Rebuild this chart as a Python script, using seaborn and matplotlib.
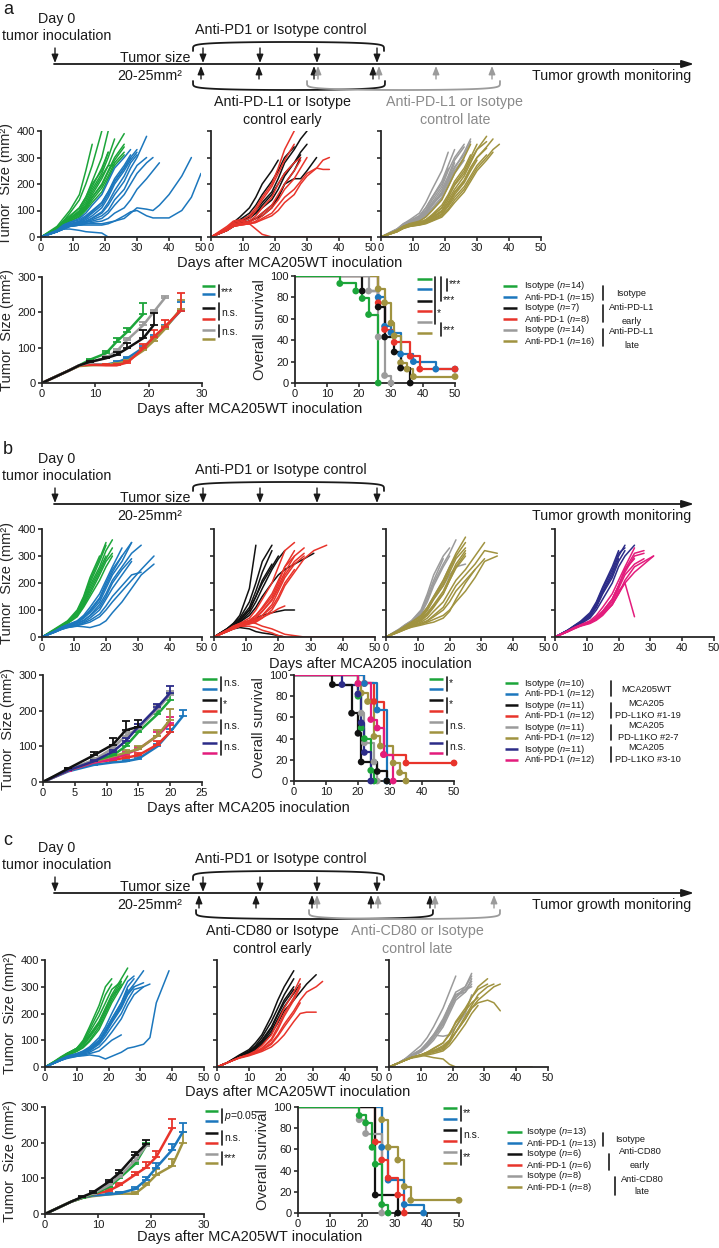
import numpy as np
import pandas as pd
import matplotlib
matplotlib.use("Agg")
import matplotlib.pyplot as plt
import seaborn as sns

# ---------------- DATA ----------------
GREEN, BLUE, BLACK, RED = '#1ca53a', '#1c77bd', '#111111', '#e8342b'
GRAY, OLIVE, NAVY, PINK = '#9b9b9b', '#a09340', '#2c2c88', '#e31c7c'

# panel a: individual tumour curves (values on the day grid)
A_DAYS = [0, 5, 7, 9, 12, 14, 16, 19, 21, 23, 26, 28, 30, 33, 35, 37, 40, 44, 47, 50]
a_green = [
    [0, 40, 70, 100, 160, 250, 350],
    [0, 35, 60, 90, 140, 200, 270, 400],
    [0, 30, 55, 75, 110, 150, 210, 300, 400],
    [0, 30, 50, 70, 100, 140, 190, 260, 320],
    [0, 30, 55, 70, 95, 130, 180, 240, 300, 370],
    [0, 25, 50, 65, 90, 120, 160, 220, 270, 330, 390],
    [0, 30, 50, 65, 85, 110, 150, 200, 250, 300, 350],
    [0, 25, 45, 60, 80, 105, 140, 185, 230, 280, 320],
    [0, 30, 50, 60, 75, 100, 130, 170, 220, 270, 310],
    [0, 35, 55, 70, 90, 120, 170, 230, 270, 270],
    [0, 30, 60, 80, 110, 150, 200, 250, 320],
    [0, 28, 52, 68, 88, 115, 150, 195, 245, 290, 340],
]
a_blue = [
    [0, 25, 45, 55, 70, 90, 120, 160, 210, 260, 300, 330],
    [0, 25, 40, 50, 60, 75, 95, 130, 170, 220, 270, 310],
    [0, 20, 40, 50, 55, 65, 80, 110, 150, 200, 250, 290, 320],
    [0, 20, 35, 45, 55, 60, 70, 90, 120, 160, 210, 260, 300, 380],
    [0, 20, 35, 45, 50, 55, 65, 80, 100, 140, 180, 230, 270, 300],
    [0, 20, 35, 45, 50, 55, 60, 70, 90, 120, 160, 200, 240, 280, 300],
    [0, 20, 30, 40, 45, 50, 55, 60, 70, 90, 110, 140, 180, 220, 250, 280],
    [0, 20, 30, 40, 45, 50, 50, 50, 55, 60, 70, 90, 110, 105, 100, 120, 160, 230, 300],
    [0, 20, 30, 40, 45, 45, 45, 45, 50, 60, 80, 95, 100, 80, 72, 72, 72, 100, 150, 240],
    [0, 20, 30, 30, 25, 20, 18, 15, 0, 0, 0, 0, 0, 0, 0, 0, 0, 0, 0, 0],
    [0, 25, 45, 55, 65, 80, 100, 130, 170, 210, 260, 300],
    [0, 22, 38, 48, 58, 70, 90, 120, 160, 210, 260, 300, 330],
    [0, 22, 35, 42, 50, 58, 72, 95, 130, 175, 230, 280, 310],
]
a_black = [
    [0, 30, 55, 75, 110, 150, 200, 250, 290],
    [0, 30, 50, 65, 90, 120, 160, 210, 250, 300, 340],
    [0, 30, 45, 60, 80, 100, 130, 170, 220, 280, 330, 370, 400],
    [0, 25, 45, 55, 70, 90, 110, 140, 180, 230, 280, 320, 350],
    [0, 25, 40, 50, 60, 70, 90, 120, 150, 200, 220, 220, 250, 300],
    [0, 25, 40, 50, 60, 70, 80, 110, 150, 200, 250, 300],
    [0, 30, 50, 60, 75, 90, 120, 160, 200, 240, 280, 310],
]
a_red = [
    [0, 40, 60, 65, 50, 30, 10, 0, 0, 0, 0, 0, 0, 0, 0, 0, 0, 0, 0, 0],
    [0, 35, 55, 60, 80, 110, 150, 200, 260, 330, 400],
    [0, 30, 50, 55, 70, 100, 140, 190, 240, 290, 350],
    [0, 30, 45, 50, 60, 80, 110, 150, 200, 240, 280, 300],
    [0, 25, 40, 45, 50, 60, 80, 110, 140, 180, 220, 260, 300],
    [0, 25, 40, 45, 50, 55, 70, 90, 120, 150, 180, 210, 240, 260, 255, 255],
    [0, 25, 40, 45, 50, 55, 65, 80, 100, 130, 160, 200, 230, 260, 290, 300],
    [0, 30, 45, 50, 55, 70, 90, 120, 160, 200, 250, 290],
]
a_gray = [
    [0, 30, 50, 65, 90, 130, 180, 250, 320],
    [0, 30, 45, 60, 80, 110, 150, 210, 270, 330],
    [0, 25, 45, 55, 75, 100, 140, 190, 250, 300, 350],
    [0, 25, 40, 55, 70, 95, 130, 180, 230, 290, 340],
    [0, 25, 40, 50, 65, 85, 120, 160, 210, 260, 320, 370],
    [0, 25, 40, 50, 60, 80, 110, 150, 200, 250, 300],
    [0, 30, 50, 60, 80, 110, 150, 200, 260],
    [0, 25, 40, 50, 65, 90, 120, 170, 220, 280],
    [0, 25, 45, 55, 70, 95, 125, 165, 215, 265, 310, 360],
    [0, 22, 38, 48, 60, 78, 105, 145, 190, 240, 290],
]
a_olive = [
    [0, 25, 40, 50, 55, 65, 80, 110, 150, 200, 250, 300, 350],
    [0, 22, 38, 45, 50, 60, 75, 100, 140, 180, 230, 280, 330, 380],
    [0, 22, 35, 42, 48, 55, 70, 95, 130, 170, 210, 260, 300, 340, 370],
    [0, 20, 35, 42, 48, 55, 65, 85, 115, 150, 190, 230, 270, 310],
    [0, 25, 40, 50, 60, 75, 100, 140, 190, 240, 300, 350],
    [0, 22, 38, 45, 52, 62, 80, 110, 150, 195, 240, 290, 330, 360],
    [0, 20, 32, 40, 45, 50, 60, 75, 100, 130, 170, 210, 250, 290, 320],
    [0, 20, 33, 40, 46, 52, 62, 80, 105, 140, 180, 220, 260, 300, 330, 350],
    [0, 25, 40, 48, 55, 65, 85, 120, 160, 210, 260, 310],
    [0, 20, 35, 42, 48, 55, 66, 88, 120, 160, 205, 250, 290],
    [0, 22, 36, 44, 50, 58, 72, 96, 128, 168, 215, 262, 300, 335],
]

# panel a: mean + SEM
a_m_green_d = [0, 5, 7, 9, 12, 14, 16, 19]
a_m_green = [0, 35, 50, 66, 84, 117, 145, 195]
a_m_green_e = [0, 0, 0, 3, 7, 10, 12, 32]
a_m_blue_d = [0, 5, 7, 9, 12, 14, 16, 19, 21, 23, 26]
a_m_blue = [0, 35, 50, 52, 52, 58, 70, 100, 130, 155, 205]
a_m_blue_e = [0, 0, 0, 2, 3, 4, 5, 6, 7, 8, 25]
a_m_black_d = [0, 5, 7, 9, 12, 14, 16, 19, 21]
a_m_black = [0, 35, 50, 60, 70, 80, 98, 127, 165]
a_m_black_e = [0, 0, 0, 3, 5, 9, 14, 23, 34]
a_m_red_d = [0, 5, 7, 9, 12, 14, 16, 19, 21, 23, 26]
a_m_red = [0, 35, 50, 52, 50, 50, 58, 98, 131, 159, 205]
a_m_red_e = [0, 0, 0, 4, 3, 3, 5, 12, 19, 19, 50]
a_m_gray_d = [0, 5, 7, 9, 12, 14, 16, 19, 21, 23]
a_m_gray = [0, 35, 50, 58, 72, 90, 122, 164, 202, 240]
a_m_gray_e = [0, 0, 0, 2, 4, 5, 6, 9, 6, 6]
a_m_olive_d = [0, 5, 7, 9, 12, 14, 16, 19, 21, 23, 26]
a_m_olive = [0, 35, 48, 50, 52, 55, 62, 92, 120, 152, 210]
a_m_olive_e = [0, 0, 0, 2, 2, 3, 4, 5, 6, 8, 25]

# panel a: survival
a_s_green_t = [0, 14, 19, 21, 23, 26]
a_s_green = [100, 93, 86, 79, 64, 0]
a_s_blue_t = [0, 26, 28, 30, 33, 37, 44, 50]
a_s_blue = [100, 80, 53, 47, 27, 20, 13, 13]
a_s_black_t = [0, 21, 26, 28, 31, 33, 36]
a_s_black = [100, 86, 71, 43, 29, 14, 0]
a_s_red_t = [0, 26, 28, 31, 36, 39, 50]
a_s_red = [100, 75, 50, 38, 25, 13, 13]
a_s_gray_t = [0, 23, 26, 28, 30]
a_s_gray = [100, 86, 43, 7, 0]
a_s_olive_t = [0, 26, 28, 30, 31, 33, 35, 37, 50]
a_s_olive = [100, 88, 75, 56, 44, 19, 13, 6, 6]

# panel b: individual curves
B_DAYS = [0, 4, 6, 8, 11, 13, 15, 18, 20, 22, 25, 28, 31, 35, 40, 45, 50]
b_green = [
    [0, 25, 40, 55, 90, 140, 200, 280, 340],
    [0, 25, 40, 55, 85, 130, 190, 260, 320, 360],
    [0, 30, 45, 60, 100, 150, 220, 300],
    [0, 25, 38, 52, 80, 120, 170, 240, 290, 330],
    [0, 28, 42, 58, 95, 145, 210, 290, 350],
    [0, 25, 40, 55, 80, 115, 160, 230, 280, 310],
    [0, 22, 36, 50, 75, 110, 150, 210, 260, 300],
    [0, 25, 40, 55, 85, 125, 180, 250, 300],
]
b_blue = [
    [0, 22, 35, 45, 60, 80, 110, 160, 210, 260, 330],
    [0, 20, 32, 42, 55, 70, 95, 140, 190, 240, 300, 350],
    [0, 20, 30, 40, 50, 60, 80, 120, 160, 210, 260, 310, 340],
    [0, 18, 28, 38, 45, 55, 70, 100, 140, 180, 230, 280],
    [0, 18, 30, 38, 45, 52, 62, 85, 115, 150, 190, 230, 240],
    [0, 18, 28, 35, 42, 48, 55, 75, 100, 130, 170, 210, 250, 300],
    [0, 20, 32, 42, 52, 62, 78, 110, 150, 200, 250, 290],
    [0, 18, 28, 35, 40, 38, 35, 45, 60, 90, 130, 180, 230, 270],
    [0, 20, 35, 45, 55, 70, 90, 130, 180, 230, 280, 350],
    [0, 22, 35, 45, 58, 75, 100, 145, 200, 250, 300],
]
b_black = [
    [0, 30, 50, 80, 180, 340],
    [0, 30, 50, 70, 130, 200, 280, 340],
    [0, 28, 45, 65, 110, 170, 240, 320],
    [0, 25, 40, 55, 90, 130, 180, 250, 290, 320],
    [0, 25, 40, 55, 80, 110, 150, 200, 230, 250, 270, 290, 310],
    [0, 25, 40, 50, 60, 70, 80, 90, 95, 100, 100],
    [0, 30, 45, 60, 100, 150, 210, 270],
    [0, 20, 30, 35, 30, 20, 15, 10, 5, 0],
    [0, 28, 45, 62, 100, 150, 200, 260, 300],
]
b_red = [
    [0, 25, 40, 50, 70, 100, 140, 200, 260, 320, 350],
    [0, 22, 35, 45, 60, 80, 110, 160, 210, 260, 320],
    [0, 20, 32, 42, 55, 70, 95, 140, 190, 240, 300, 330],
    [0, 20, 30, 40, 50, 60, 80, 120, 170, 220, 270, 300],
    [0, 20, 30, 40, 48, 55, 70, 100, 140, 190, 240, 290, 320, 340],
    [0, 22, 35, 45, 55, 65, 80, 110, 150, 200, 250],
    [0, 25, 40, 50, 55, 50, 40, 30, 20, 10, 5, 0, 0, 0, 0, 0, 0],
    [0, 25, 35, 40, 40, 35, 25, 15, 5, 0],
    [0, 22, 36, 48, 62, 80, 105, 150, 200, 260, 300],
    [0, 20, 30, 40, 50, 60, 72, 90, 105, 115],
    [0, 22, 34, 44, 56, 72, 95, 135, 180, 230, 280, 310],
]
b_gray = [
    [0, 28, 45, 60, 100, 160, 230, 300, 330],
    [0, 25, 40, 55, 90, 140, 200, 270, 310, 360],
    [0, 25, 40, 55, 85, 130, 190, 260, 300],
    [0, 22, 35, 48, 70, 100, 140, 190, 230, 260, 270],
    [0, 28, 45, 60, 95, 150, 210, 290],
    [0, 25, 40, 55, 80, 110, 150, 210, 260, 300],
]
b_olive = [
    [0, 25, 40, 55, 80, 110, 150, 210, 260, 310, 370],
    [0, 22, 36, 50, 70, 100, 140, 190, 240, 290, 330],
    [0, 22, 35, 48, 65, 90, 120, 170, 220, 270, 320],
    [0, 20, 32, 45, 60, 80, 110, 160, 210, 260, 310],
    [0, 20, 30, 42, 55, 70, 95, 130, 170, 210, 250, 300, 350],
    [0, 20, 30, 40, 50, 60, 80, 110, 150, 190, 230, 270, 320, 310],
    [0, 18, 28, 38, 48, 55, 65, 80, 100, 130, 170, 220, 280, 300],
    [0, 20, 30, 40, 50, 60, 75, 100, 130, 170, 210, 250, 290],
    [0, 25, 40, 55, 75, 105, 145, 200, 250, 300, 350],
    [0, 22, 35, 48, 62, 85, 115, 160, 210, 255, 300],
    [0, 18, 28, 36, 44, 50, 55, 70, 95, 140, 200, 250],
]
b_navy = [
    [0, 25, 40, 55, 80, 120, 170, 240, 300, 340],
    [0, 25, 40, 55, 85, 125, 180, 250, 310, 330],
    [0, 22, 36, 50, 75, 110, 160, 220, 280, 320],
    [0, 25, 40, 55, 80, 115, 165, 230, 290],
    [0, 22, 35, 48, 70, 100, 140, 200, 260, 300, 340],
    [0, 25, 42, 58, 90, 130, 185, 260, 320],
]
b_pink = [
    [0, 22, 35, 45, 60, 80, 110, 160, 210, 260, 330],
    [0, 20, 32, 42, 55, 70, 95, 140, 190, 240, 300, 310],
    [0, 20, 30, 40, 50, 62, 80, 120, 160, 200, 240, 270, 300],
    [0, 22, 34, 44, 56, 72, 95, 140, 190, 250, 290],
    [0, 20, 32, 42, 54, 68, 90, 130, 180, 230, 270, 290],
    [0, 20, 32, 42, 54, 66, 85, 120, 170, 200, 75],
    [0, 22, 34, 44, 56, 72, 95, 140, 190, 250, 310, 320],
    [0, 20, 32, 42, 52, 65, 85, 120, 160, 210, 260, 280, 300],
]

b_m_d = [0, 4, 8, 11, 13, 15, 18, 20]
b_m_green = [0, 35, 60, 75, 100, 140, 190, 230]
b_m_green_e = [0, 2, 4, 6, 8, 8, 10, 18]
b_m_blue_d = [0, 4, 8, 11, 13, 15, 18, 20, 22]
b_m_blue = [0, 30, 48, 55, 58, 65, 100, 140, 185]
b_m_blue_e = [0, 2, 3, 3, 4, 4, 6, 8, 18]
b_m_black_d = [0, 4, 8, 11, 13, 15]
b_m_black = [0, 38, 75, 105, 145, 155]
b_m_black_e = [0, 2, 8, 18, 25, 20]
b_m_red = [0, 33, 55, 62, 68, 75, 105, 140]
b_m_red_e = [0, 2, 3, 4, 5, 6, 10, 20]
b_m_gray = [0, 35, 62, 95, 130, 150, 205, 245]
b_m_gray_e = [0, 2, 5, 8, 10, 12, 12, 10]
b_m_olive = [0, 33, 58, 72, 82, 92, 130, 175]
b_m_olive_e = [0, 2, 4, 6, 8, 10, 15, 30]
b_m_navy = [0, 33, 58, 85, 115, 155, 210, 250]
b_m_navy_e = [0, 2, 4, 6, 8, 8, 10, 18]
b_m_pink = [0, 32, 55, 65, 78, 92, 130, 165]
b_m_pink_e = [0, 2, 4, 5, 6, 6, 10, 18]

b_s_green_t = [0, 20, 21, 22, 24, 25]
b_s_green = [100, 80, 50, 40, 10, 0]
b_s_blue_t = [0, 22, 26, 29]
b_s_blue = [100, 92, 67, 0]
b_s_black_t = [0, 12, 18, 20, 21, 26, 29]
b_s_black = [100, 91, 64, 45, 18, 9, 0]
b_s_red_t = [0, 22, 25, 28, 35, 50]
b_s_red = [100, 92, 75, 25, 17, 17]
b_s_gray_t = [0, 20, 21, 22, 25, 26]
b_s_gray = [100, 82, 64, 36, 18, 0]
b_s_olive_t = [0, 20, 21, 23, 25, 27, 31, 33, 35]
b_s_olive = [100, 92, 83, 75, 42, 33, 17, 8, 0]
b_s_navy_t = [0, 15, 20, 21, 22, 24]
b_s_navy = [100, 91, 82, 55, 27, 0]
b_s_pink_t = [0, 20, 24, 26, 28, 31]
b_s_pink = [100, 92, 58, 50, 25, 0]

# panel c: individual curves
C_DAYS = [0, 3, 5, 7, 10, 12, 14, 17, 19, 21, 24, 26, 28, 31, 33, 35, 39, 45]
c_green = [
    [0, 20, 35, 50, 70, 100, 150, 230, 300, 330],
    [0, 20, 35, 50, 70, 95, 140, 210, 270, 310],
    [0, 18, 30, 45, 65, 90, 130, 190, 240, 290, 320],
    [0, 20, 35, 50, 70, 90, 120, 170, 220, 270, 330, 370],
    [0, 18, 32, 45, 60, 75, 100, 150, 200, 250, 310],
    [0, 20, 35, 48, 62, 80, 110, 160, 210, 260, 320],
    [0, 22, 38, 52, 68, 85, 115, 165, 215, 265, 300],
    [0, 18, 30, 42, 58, 72, 95, 140, 190, 240, 300, 340],
]
c_blue = [
    [0, 15, 28, 40, 50, 60, 75, 110, 150, 200, 270, 320, 340],
    [0, 15, 28, 38, 48, 55, 65, 95, 130, 170, 230, 280, 310, 360],
    [0, 15, 25, 35, 45, 52, 60, 85, 115, 150, 200, 250, 290, 300, 310],
    [0, 15, 25, 35, 42, 48, 55, 75, 100, 130, 180, 230, 270, 300],
    [0, 15, 25, 35, 40, 42, 45, 40, 30, 40, 55, 70, 75, 85, 110, 240, 360],
    [0, 18, 30, 40, 50, 58, 70, 100, 140, 180, 240, 290],
    [0, 15, 25, 35, 45, 52, 62, 90, 125, 165, 220, 270, 300],
    [0, 15, 28, 38, 48, 55, 68, 100, 135, 180, 240, 300, 330],
    [0, 15, 25, 32, 40, 45, 50, 60, 80, 100, 120],
    [0, 16, 28, 38, 46, 54, 64, 92, 128, 170, 225, 275, 300, 315],
]
c_black = [
    [0, 15, 30, 45, 65, 90, 120, 190, 250, 300, 360],
    [0, 15, 28, 42, 60, 80, 110, 170, 220, 270, 330],
    [0, 15, 28, 40, 55, 75, 100, 150, 200, 250, 300],
    [0, 15, 25, 38, 50, 65, 85, 125, 165, 210, 250, 280, 310, 345],
    [0, 15, 28, 40, 55, 72, 95, 145, 195, 240, 290],
    [0, 15, 26, 38, 52, 70, 90, 135, 180, 225, 275, 310],
]
c_red = [
    [0, 15, 25, 35, 48, 60, 80, 120, 170, 220, 280, 330],
    [0, 15, 25, 35, 45, 55, 70, 100, 140, 190, 250, 300],
    [0, 15, 25, 35, 45, 55, 65, 90, 120, 160, 210, 250, 280, 300, 320],
    [0, 15, 25, 33, 42, 50, 58, 75, 95, 120, 170, 200, 205, 205],
    [0, 15, 25, 35, 45, 55, 70, 105, 150, 200, 260, 310],
    [0, 15, 25, 35, 45, 52, 62, 85, 115, 150, 200, 240],
]
c_gray = [
    [0, 15, 30, 50, 80, 110, 150, 220, 280, 340],
    [0, 15, 28, 42, 65, 90, 120, 180, 230, 280, 300, 350],
    [0, 15, 28, 40, 60, 80, 110, 160, 220, 270, 280, 330],
    [0, 15, 28, 42, 62, 85, 115, 170, 230, 270, 290, 300],
    [0, 15, 28, 40, 55, 75, 100, 150, 200, 250, 280, 310],
    [0, 15, 28, 42, 60, 90, 120, 115, 120, 150, 200, 270],
    [0, 15, 30, 45, 65, 90, 120, 170, 220, 260, 300, 340],
    [0, 15, 28, 40, 58, 80, 110, 160, 210, 260, 290, 320],
]
c_olive = [
    [0, 15, 25, 35, 45, 40, 35, 30, 10, 0, 0, 0, 0, 0, 0, 0, 0, 0],
    [0, 15, 25, 35, 45, 55, 62, 75, 100, 150, 210, 260, 300, 330],
    [0, 15, 25, 35, 45, 52, 58, 70, 95, 130, 190, 230, 270, 300, 310],
    [0, 15, 25, 35, 42, 48, 55, 65, 90, 130, 180, 220, 240, 250, 240, 210],
    [0, 15, 25, 35, 45, 55, 70, 90, 120, 170, 220, 260, 290, 310],
    [0, 15, 25, 35, 45, 50, 60, 80, 100, 130, 180, 220, 250, 280, 300, 310],
    [0, 15, 25, 35, 45, 55, 68, 90, 125, 165, 210, 240, 260],
    [0, 15, 25, 33, 40, 45, 50, 60, 80, 110, 160, 200, 230],
]

c_m_short_d = [0, 5, 7, 9, 12, 14, 17, 19]
c_m_long_d = [0, 5, 7, 9, 12, 14, 17, 19, 21, 24, 26]
c_m_green = [0, 35, 45, 55, 75, 100, 140, 190]
c_m_green_e = [0, 0, 2, 3, 4, 5, 6, 8]
c_m_blue = [0, 35, 45, 52, 55, 58, 70, 95, 130, 180, 230]
c_m_blue_e = [0, 0, 2, 2, 3, 4, 5, 8, 12, 15, 25]
c_m_black = [0, 35, 48, 60, 90, 115, 165, 195]
c_m_black_e = [0, 0, 2, 4, 6, 8, 10, 12]
c_m_red_d = [0, 5, 7, 9, 12, 14, 17, 19, 21, 24]
c_m_red = [0, 35, 45, 55, 65, 80, 110, 130, 160, 240]
c_m_red_e = [0, 0, 2, 3, 4, 6, 8, 15, 18, 25]
c_m_gray = [0, 35, 47, 57, 80, 105, 150, 190]
c_m_gray_e = [0, 0, 2, 3, 4, 5, 6, 6]
c_m_olive = [0, 35, 45, 50, 55, 57, 57, 80, 110, 135, 200]
c_m_olive_e = [0, 0, 2, 2, 3, 4, 5, 8, 15, 20, 30]

c_s_green_t = [0, 19, 21, 23, 24, 26, 28]
c_s_green = [100, 92, 85, 62, 46, 8, 0]
c_s_blue_t = [0, 26, 28, 33, 39]
c_s_blue = [100, 62, 31, 8, 0]
c_s_black_t = [0, 24, 31]
c_s_black = [100, 17, 0]
c_s_red_t = [0, 24, 26, 28, 31, 33]
c_s_red = [100, 67, 50, 33, 17, 0]
c_s_gray_t = [0, 19, 21, 26]
c_s_gray = [100, 88, 75, 0]
c_s_olive_t = [0, 26, 28, 31, 33, 35, 50]
c_s_olive = [100, 88, 62, 50, 25, 12, 12]

a_groups = ["Isotype ($\\it{n}$=14)", "Anti-PD-1 ($\\it{n}$=15)", "Isotype ($\\it{n}$=7)",
            "Anti-PD-1 ($\\it{n}$=8)", "Isotype ($\\it{n}$=14)", "Anti-PD-1 ($\\it{n}$=16)"]
b_groups = ["Isotype ($\\it{n}$=10)", "Anti-PD-1 ($\\it{n}$=12)", "Isotype ($\\it{n}$=11)",
            "Anti-PD-1 ($\\it{n}$=12)", "Isotype ($\\it{n}$=11)", "Anti-PD-1 ($\\it{n}$=12)",
            "Isotype ($\\it{n}$=11)", "Anti-PD-1 ($\\it{n}$=12)"]
c_groups = ["Isotype ($\\it{n}$=13)", "Anti-PD-1 ($\\it{n}$=13)", "Isotype ($\\it{n}$=6)",
            "Anti-PD-1 ($\\it{n}$=6)", "Isotype ($\\it{n}$=8)", "Anti-PD-1 ($\\it{n}$=8)"]

# ---------------- STYLE ----------------
sns.set_theme(style="ticks")
plt.rcParams['font.family'] = ['Liberation Sans', 'DejaVu Sans']
plt.rcParams['mathtext.fontset'] = 'custom'
plt.rcParams['mathtext.rm'] = 'Liberation Sans'
plt.rcParams['mathtext.it'] = 'Liberation Sans:italic'
plt.rcParams['axes.linewidth'] = 1.3
TL = 10.3  # timeline text size

W, H = 719, 1248
fig = plt.figure(figsize=(W / 100, H / 100), dpi=100)


def pax(x0, y0, x1, y1):
    return fig.add_axes([x0 / W, 1 - y1 / H, (x1 - x0) / W, (y1 - y0) / H])


def style(ax, xmax, ymax, xt, yt, labels=True):
    ax.set_xlim(0, xmax)
    ax.set_ylim(0, ymax)
    ax.set_xticks(xt)
    ax.set_yticks(yt)
    sns.despine(ax=ax)
    ax.tick_params(labelsize=8, length=3, width=1.1, pad=1.5, colors='k')
    if not labels:
        ax.set_yticklabels([])
    ax.set_xlabel('')
    ax.set_ylabel('')


def spaghetti(ax, days, groups):
    for curves, col in groups:
        rows = []
        for i, c in enumerate(curves):
            for d, v in zip(days, c):
                rows.append((i, d, v))
        df = pd.DataFrame(rows, columns=['id', 'day', 'size'])
        sns.lineplot(data=df, x='day', y='size', units='id', estimator=None,
                     color=col, lw=1.1, sort=False, ax=ax, legend=False)


def means(ax, series):
    for d, v, e, col in series:
        sns.lineplot(x=d, y=v, color=col, lw=1.8, ax=ax, legend=False)
        d = np.asarray(d); v = np.asarray(v); e = np.asarray(e)
        m = e > 0
        ax.errorbar(d[m], v[m], yerr=[np.zeros(m.sum()), e[m]], fmt='none',
                    ecolor=col, elinewidth=1.3, capsize=3, capthick=1.3)


def survival(ax, series):
    for t, s, col in series:
        sns.lineplot(x=t, y=s, color=col, lw=1.6, drawstyle='steps-post', ax=ax,
                     legend=False)
        sns.scatterplot(x=t[1:], y=s[1:], color=col, s=24, edgecolor='none',
                        ax=ax, legend=False, clip_on=False, zorder=5)


# ---------------- PANEL a ----------------
a1 = pax(41, 131, 201, 237)
spaghetti(a1, A_DAYS, [(a_green, GREEN), (a_blue, BLUE)])
a2 = pax(211, 131, 371, 237)
spaghetti(a2, A_DAYS, [(a_black, BLACK), (a_red, RED)])
a3 = pax(381, 131, 541, 237)
spaghetti(a3, A_DAYS, [(a_gray, GRAY), (a_olive, OLIVE)])
for i, ax in enumerate([a1, a2, a3]):
    style(ax, 50, 400, range(0, 51, 10), range(0, 401, 100), labels=(i == 0))
a1.set_ylabel("Tumor  Size (mm²)", fontsize=10.5, labelpad=2)

a4 = pax(42, 277, 202, 383)
means(a4, [(a_m_green_d, a_m_green, a_m_green_e, GREEN),
           (a_m_blue_d, a_m_blue, a_m_blue_e, BLUE),
           (a_m_olive_d, a_m_olive, a_m_olive_e, OLIVE),
           (a_m_red_d, a_m_red, a_m_red_e, RED),
           (a_m_gray_d, a_m_gray, a_m_gray_e, GRAY),
           (a_m_black_d, a_m_black, a_m_black_e, BLACK)])
style(a4, 30, 300, range(0, 31, 10), range(0, 301, 100))
a4.set_ylabel("Tumor  Size (mm²)", fontsize=10.5, labelpad=2)

a5 = pax(295, 276, 455, 383)
survival(a5, [(a_s_blue_t, a_s_blue, BLUE), (a_s_red_t, a_s_red, RED),
              (a_s_olive_t, a_s_olive, OLIVE), (a_s_black_t, a_s_black, BLACK),
              (a_s_gray_t, a_s_gray, GRAY), (a_s_green_t, a_s_green, GREEN)])
style(a5, 50, 100, range(0, 51, 10), range(0, 101, 20))
a5.set_ylabel("Overall survival", fontsize=10.5, labelpad=2)

# ---------------- PANEL b ----------------
bpos = [(42, 529, 202, 637), (214, 529, 375, 637), (386, 529, 545, 637), (555, 529, 714, 637)]
bgr = [[(b_green, GREEN), (b_blue, BLUE)], [(b_black, BLACK), (b_red, RED)],
       [(b_gray, GRAY), (b_olive, OLIVE)], [(b_navy, NAVY), (b_pink, PINK)]]
for i, (p, g) in enumerate(zip(bpos, bgr)):
    ax = pax(*p)
    spaghetti(ax, B_DAYS, g)
    style(ax, 50, 400, range(0, 51, 10), range(0, 401, 100), labels=(i == 0))
    if i == 0:
        ax.set_ylabel("Tumor  Size (mm²)", fontsize=10.5, labelpad=2)

b5 = pax(43, 675, 202, 782)
means(b5, [(b_m_blue_d, b_m_blue, b_m_blue_e, BLUE),
           (b_m_d, b_m_red, b_m_red_e, RED),
           (b_m_d, b_m_pink, b_m_pink_e, PINK),
           (b_m_d, b_m_olive, b_m_olive_e, OLIVE),
           (b_m_d, b_m_green, b_m_green_e, GREEN),
           (b_m_d, b_m_gray, b_m_gray_e, GRAY),
           (b_m_d, b_m_navy, b_m_navy_e, NAVY),
           (b_m_black_d, b_m_black, b_m_black_e, BLACK)])
style(b5, 25, 300, range(0, 26, 5), range(0, 301, 100))
b5.set_ylabel("Tumor  Size (mm²)", fontsize=10.5, labelpad=2)

b6 = pax(294, 675, 454, 781)
survival(b6, [(b_s_red_t, b_s_red, RED), (b_s_olive_t, b_s_olive, OLIVE),
              (b_s_blue_t, b_s_blue, BLUE), (b_s_gray_t, b_s_gray, GRAY),
              (b_s_green_t, b_s_green, GREEN), (b_s_navy_t, b_s_navy, NAVY),
              (b_s_black_t, b_s_black, BLACK), (b_s_pink_t, b_s_pink, PINK)])
style(b6, 50, 100, range(0, 51, 10), range(0, 101, 20))
b6.set_ylabel("Overall survival", fontsize=10.5, labelpad=2)

# ---------------- PANEL c ----------------
cpos = [(45, 960, 204, 1067), (217, 960, 377, 1067), (389, 960, 548, 1067)]
cgr = [[(c_green, GREEN), (c_blue, BLUE)], [(c_black, BLACK), (c_red, RED)],
       [(c_gray, GRAY), (c_olive, OLIVE)]]
for i, (p, g) in enumerate(zip(cpos, cgr)):
    ax = pax(*p)
    spaghetti(ax, C_DAYS, g)
    style(ax, 50, 400, range(0, 51, 10), range(0, 401, 100), labels=(i == 0))
    if i == 0:
        ax.set_ylabel("Tumor  Size (mm²)", fontsize=10.5, labelpad=2)

c4 = pax(45, 1107, 204, 1214)
means(c4, [(c_m_long_d, c_m_olive, c_m_olive_e, OLIVE),
           (c_m_long_d, c_m_blue, c_m_blue_e, BLUE),
           (c_m_red_d, c_m_red, c_m_red_e, RED),
           (c_m_short_d, c_m_green, c_m_green_e, GREEN),
           (c_m_short_d, c_m_gray, c_m_gray_e, GRAY),
           (c_m_short_d, c_m_black, c_m_black_e, BLACK)])
style(c4, 30, 300, range(0, 31, 10), range(0, 301, 100))
c4.set_ylabel("Tumor  Size (mm²)", fontsize=10.5, labelpad=2)

c5 = pax(298, 1107, 459, 1213)
survival(c5, [(c_s_olive_t, c_s_olive, OLIVE), (c_s_blue_t, c_s_blue, BLUE),
              (c_s_red_t, c_s_red, RED), (c_s_black_t, c_s_black, BLACK),
              (c_s_gray_t, c_s_gray, GRAY), (c_s_green_t, c_s_green, GREEN)])
style(c5, 50, 100, range(0, 51, 10), range(0, 101, 20))
c5.set_ylabel("Overall survival", fontsize=10.5, labelpad=2)

# ---------------- OVERLAY (schemes, labels, legends) ----------------
ov = fig.add_axes([0, 0, 1, 1])
ov.set_xlim(0, W)
ov.set_ylim(H, 0)
ov.axis('off')


def txt(x, y, s, size=TL, ha='center', color='k', va='center'):
    ov.text(x, y, s, fontsize=size, ha=ha, va=va, color=color)


def arrow(x, y_from, y_to, color='k'):
    ov.annotate('', xy=(x, y_to), xytext=(x, y_from),
                arrowprops=dict(arrowstyle='-|>,head_length=0.55,head_width=0.22',
                                color=color, lw=1.0, shrinkA=0, shrinkB=0,
                                mutation_scale=9))


def bracket(x0, x1, y_end, depth, color, up=True):
    t = np.linspace(0, np.pi, 80)
    xs = (x0 + x1) / 2 - (x1 - x0) / 2 * np.cos(t)
    sgn = -1 if up else 1
    ys = y_end + sgn * depth * np.sin(t) ** 0.3
    ov.plot(xs, ys, color=color, lw=1.3)


def timeline(y, lower_black=None, lower_gray=None, up_black=(), up_gray=(),
             low_spans=None, low_text_x=None):
    txt(57, y - 45, "Day 0")
    txt(57, y - 28, "tumor inoculation")
    txt(281, y - 34, "Anti-PD1 or Isotype control")
    bracket(193, 384, y - 13, 9, 'k', up=True)
    ov.annotate('', xy=(694, y), xytext=(54, y),
                arrowprops=dict(arrowstyle='-|>,head_length=0.8,head_width=0.25',
                                color='k', lw=1.3, shrinkA=0, shrinkB=0,
                                mutation_scale=9))
    arrow(55, y - 16, y - 1)
    for x in (203, 260, 317, 377):
        arrow(x, y - 16, y - 1)
    txt(190, y - 6, "Tumor size", ha='right')
    txt(117, y + 12, "20-25mm²", ha='left')
    txt(691, y + 12, "Tumor growth monitoring", ha='right')
    for x in up_black:
        arrow(x, y + 15, y + 2)
    for x in up_gray:
        arrow(x, y + 15, y + 2, color=GRAY)
    if lower_black:
        (bx0, bx1), (gx0, gx1) = low_spans
        bracket(bx0, bx1, y + 17, 9, 'k', up=False)
        bracket(gx0, gx1, y + 17, 9, GRAY, up=False)
        txt(low_text_x[0], y + 38, lower_black[0])
        txt(low_text_x[0], y + 56, lower_black[1])
        txt(low_text_x[1], y + 38, lower_gray[0], color='#8a8a8a')
        txt(low_text_x[1], y + 56, lower_gray[1], color='#8a8a8a')


txt(3, 1, "a", size=13, ha='left', va='top')
timeline(64, ("Anti-PD-L1 or Isotype", "control early"),
         ("Anti-PD-L1 or Isotype", "control late"),
         up_black=(201, 259, 314, 373), up_gray=(318, 379, 436, 492),
         low_spans=((193, 385), (307, 500)), low_text_x=(282, 455))
txt(290, 263, "Days after MCA205WT inoculation", size=10.5)
txt(250, 409, "Days after MCA205WT inoculation", size=10.5)

txt(3, 441, "b", size=13, ha='left', va='top')
timeline(504)
txt(370, 664, "Days after MCA205 inoculation", size=10.5)
txt(248, 808, "Days after MCA205 inoculation", size=10.5)

txt(3, 832, "c", size=13, ha='left', va='top')
timeline(893, ("Anti-CD80 or Isotype", "control early"),
         ("Anti-CD80 or Isotype", "control late"),
         up_black=(199, 256, 312, 371, 430), up_gray=(317, 378, 435, 494),
         low_spans=((196, 433), (309, 500)), low_text_x=(272, 417))
txt(298, 1092, "Days after MCA205WT inoculation", size=10.5)
txt(250, 1237, "Days after MCA205WT inoculation", size=10.5)


def hline(x0, x1, y, c):
    ov.plot([x0, x1], [y, y], color=c, lw=1.8, solid_capstyle='butt')


def vbar(x, y0, y1):
    ov.plot([x, x], [y0, y1], color='k', lw=1.2)


SMALL = 7.5
LEG = 6.7
# --- a legends
a_cols = [GREEN, BLUE, BLACK, RED, GRAY, OLIVE]
for y, c in zip([286, 294, 308, 319, 330, 339], a_cols):
    hline(202, 215, y, c)
vbar(219, 285, 297); txt(221, 292, "***", size=SMALL, ha='left')
vbar(219, 303, 320); txt(221, 313, "n.s.", size=SMALL, ha='left')
vbar(219, 325, 337); txt(221, 332, "n.s.", size=SMALL, ha='left')

for y, c in zip([279, 289, 301, 311, 322, 333], a_cols):
    hline(417, 432, y, c)
vbar(447, 279, 291); txt(449, 284, "***", size=SMALL, ha='left')
vbar(441, 277, 301); txt(443, 300, "***", size=SMALL, ha='left')
vbar(435, 277, 324); txt(437, 313, "*", size=SMALL, ha='left')
vbar(441, 323, 336); txt(443, 330, "***", size=SMALL, ha='left')

for y, c, s in zip([286, 297, 308, 319, 330, 341], a_cols, a_groups):
    hline(503, 517, y, c)
    txt(524, y, s, size=LEG, ha='left')
vbar(603, 286, 300); txt(631, 293, "Isotype", size=LEG)
vbar(603, 305, 322); txt(632, 308, "Anti-PD-L1", size=LEG); txt(632, 321, "early", size=LEG)
vbar(603, 329, 346); txt(632, 332, "Anti-PD-L1", size=LEG); txt(632, 345, "late", size=LEG)

# --- b legends
b_cols = [GREEN, BLUE, BLACK, RED, GRAY, OLIVE, NAVY, PINK]
b_rows = [679, 689, 700, 711, 722, 732, 743, 753]
b_line_stats = ["n.s.", "*", "n.s.", "n.s."]
b_surv_stats = ["*", "*", "n.s.", "n.s."]
for y, c in zip(b_rows, b_cols):
    hline(202, 217, y, c)
    hline(429, 443, y, c)
for k in range(4):
    y0, y1 = b_rows[2 * k] - 2, b_rows[2 * k + 1] + 2
    vbar(221, y0, y1); txt(223, (y0 + y1) / 2 - 1, b_line_stats[k], size=SMALL, ha='left')
    vbar(447, y0, y1); txt(449, (y0 + y1) / 2 - 1, b_surv_stats[k], size=SMALL, ha='left')
b_rrows = [683, 694, 705, 716, 727, 738, 749, 760]
for y, c, s in zip(b_rrows, b_cols, b_groups):
    hline(505, 518, y, c)
    txt(524, y, s, size=LEG, ha='left')
vbar(611, 681, 696); txt(646, 689, "MCA205WT", size=LEG)
vbar(611, 703, 718); txt(646, 703, "MCA205", size=LEG); txt(648, 716, "PD-L1KO #1-19", size=LEG)
vbar(611, 725, 740); txt(646, 725, "MCA205", size=LEG); txt(648, 738, "PD-L1KO #2-7", size=LEG)
vbar(611, 747, 762); txt(646, 747, "MCA205", size=LEG); txt(648, 760, "PD-L1KO #3-10", size=LEG)

# --- c legends
c_cols = [GREEN, BLUE, BLACK, RED, GRAY, OLIVE]
c_line_rows = [1111, 1121, 1133, 1143, 1154, 1163]
c_line_stats = ["$\\it{p}$=0.05", "n.s.", "***"]
c_surv_rows = [1108, 1119, 1130, 1141, 1152, 1163]
c_surv_stats = ["**", "n.s.", "**"]
for k in range(3):
    hline(205, 218, c_line_rows[2 * k], c_cols[2 * k])
    hline(205, 218, c_line_rows[2 * k + 1], c_cols[2 * k + 1])
    y0, y1 = c_line_rows[2 * k] - 2, c_line_rows[2 * k + 1] + 2
    vbar(222, y0, y1); txt(224, (y0 + y1) / 2, c_line_stats[k], size=SMALL, ha='left')
    hline(443, 457, c_surv_rows[2 * k], c_cols[2 * k])
    hline(443, 457, c_surv_rows[2 * k + 1], c_cols[2 * k + 1])
    y0, y1 = c_surv_rows[2 * k] - 2, c_surv_rows[2 * k + 1] + 2
    vbar(461, y0, y1); txt(463, (y0 + y1) / 2, c_surv_stats[k], size=SMALL, ha='left')
c_rrows = [1132, 1143, 1154, 1165, 1176, 1187]
for y, c, s in zip(c_rrows, c_cols, c_groups):
    hline(507, 522, y, c)
    txt(526, y, s, size=LEG, ha='left')
vbar(603, 1133, 1146); txt(630, 1140, "Isotype", size=LEG)
vbar(609, 1154, 1170); txt(640, 1152, "Anti-CD80", size=LEG); txt(640, 1165, "early", size=LEG)
vbar(615, 1177, 1195); txt(642, 1179, "Anti-CD80", size=LEG); txt(642, 1192, "late", size=LEG)

fig.savefig("out.png", dpi=100)
